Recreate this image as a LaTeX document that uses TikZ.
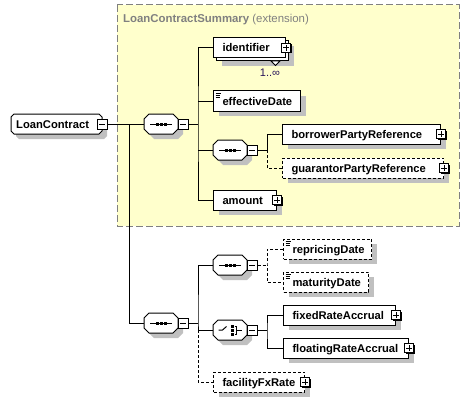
\documentclass[tikz,border=0pt]{standalone}
\usepackage{fontspec}
\setmainfont{Liberation Sans}
\usetikzlibrary{shadows,calc}
\definecolor{ybg}{RGB}{255,255,204}
\definecolor{ybord}{RGB}{128,128,128}
\definecolor{shd}{RGB}{192,192,192}
\definecolor{lbl}{RGB}{128,128,128}
\definecolor{occ}{RGB}{40,20,90}
\tikzset{
  conn/.style={line width=1pt, draw=black},
  optional/.style={dash pattern=on 3pt off 2pt},
  withshadow/.style={drop shadow={shadow xshift=5pt, shadow yshift=-5pt, fill=shd, opacity=1}},
  elembox/.style={draw=black, line width=1pt, fill=white, minimum height=20pt, inner xsep=9pt, inner ysep=0pt, text height=8pt, text depth=0pt, anchor=west, align=left, font=\fontsize{11.2}{13}\selectfont\bfseries},
  smallbox/.style={draw=black, line width=1pt, fill=white, inner sep=0pt, drop shadow={shadow xshift=1pt, shadow yshift=-1pt, fill=black, opacity=1}},
  plusbox/.style={smallbox, minimum size=9pt, path picture={\draw[line width=1pt] ([xshift=-3pt]path picture bounding box.center) -- ([xshift=3pt]path picture bounding box.center); \draw[line width=1pt] ([yshift=-3pt]path picture bounding box.center) -- ([yshift=3pt]path picture bounding box.center);}},
  minusbox/.style={smallbox, minimum size=10pt, path picture={\draw[line width=1pt] ([xshift=-3pt]path picture bounding box.center) -- ([xshift=3pt]path picture bounding box.center);}},
  iconline/.style={line width=0.7pt, draw=black},
}
\newcommand\elem[6][withshadow]{%
  \pgfmathsetmacro\mw{#4-#3}%
  \pgfmathsetmacro\tw{#4-#3-18}%
  \node[elembox, #1, minimum width=\mw pt, text width=\tw pt] (#2) at (#3,#5) {\mbox{#6}};%
}
\newcommand\octpath[4]{(#1+5,#3) -- (#2-5,#3) -- (#2,#3+5) -- (#2,#4-5) -- (#2-5,#4) -- (#1+5,#4) -- (#1,#4-5) -- (#1,#3+5) -- cycle}
\newcommand\compo[3]{%
  \pgfmathsetmacro\xa{#2}\pgfmathsetmacro\xb{#2+34}\pgfmathsetmacro\ya{#3-10}\pgfmathsetmacro\yb{#3+10}%
  \fill[shd, shift={(5,5)}] \octpath{\xa}{\xb}{\ya}{\yb};
  \draw[line width=1pt, fill=white] \octpath{\xa}{\xb}{\ya}{\yb};
  \node[inner sep=0pt, minimum width=34pt, minimum height=20pt] (#1) at (\xa+17,#3) {};
  \node[minusbox] (#1m) at (\xb+5,#3) {};
}
\newcommand\seqicon[1]{%
  \draw[line width=1pt] ($(#1.center)+(-11,0)$) -- ($(#1.center)+(11,0)$);
  \fill ($(#1.center)+(-5.5,-1.5)$) rectangle +(3,3);
  \fill ($(#1.center)+(-1.5,-1.5)$) rectangle +(3,3);
  \fill ($(#1.center)+(2.5,-1.5)$) rectangle +(3,3);
}
\newcommand\choiceicon[1]{%
  \draw[line width=1pt] ($(#1.center)+(-11.5,0)$) -- ($(#1.center)+(-7.5,0)$) -- ($(#1.center)+(-3.5,-3.5)$);
  \fill ($(#1.center)+(0.5,-5.5)$) rectangle +(3,3);
  \fill ($(#1.center)+(0.5,-1.5)$) rectangle +(3,3);
  \fill ($(#1.center)+(0.5,2.5)$) rectangle +(3,3);
  \draw[line width=1pt] ($(#1.center)+(4.5,-4)$) -- ($(#1.center)+(6.5,-4)$) -- ($(#1.center)+(6.5,4)$) -- ($(#1.center)+(4.5,4)$);
  \draw[line width=1pt] ($(#1.center)+(6.5,0)$) -- ($(#1.center)+(11.5,0)$);
}
\newcommand\simpleicon[1]{%
  \draw[iconline] ($(#1.north west)+(2.5,2.5)$) -- +(5.5,0);
  \draw[iconline] ($(#1.north west)+(2.5,4.5)$) -- +(4.5,0);
  \draw[iconline] ($(#1.north west)+(2.5,6.5)$) -- +(4.5,0);
}
\begin{document}
\begin{tikzpicture}[x=1pt, y=-1pt]
\useasboundingbox (0,0) rectangle (470,401);
% extension area
\draw[ybord, fill=ybg, line width=1pt, dash pattern=on 7pt off 3pt] (117,5) rectangle (459,226);
\node[anchor=base west, inner sep=0pt, text=lbl, font=\fontsize{11.4}{13}\selectfont] (extlabel) at (123,23) {\textbf{LoanContractSummary} (extension)};
% root
\def\lcpath{(14,114) -- (99,114) -- (102,117) -- (102,131) -- (99,134) -- (14,134) -- (11,131) -- (11,117) -- cycle}
\fill[shd, shift={(5,5)}] \lcpath;
\draw[line width=1pt, fill=white] \lcpath;
\node[anchor=west, inner sep=0pt, text height=8pt, text depth=0pt, font=\fontsize{11.2}{13}\selectfont\bfseries] (lc) at (16,124) {LoanContract};
\node[minusbox] (lcm) at (102,124) {};
% compositors
\compo{c1}{144}{124}\seqicon{c1}
\compo{c2}{213}{150}\seqicon{c2}
\compo{c3}{144}{323}\seqicon{c3}
\compo{c4}{213}{265}\seqicon{c4}
\compo{ch}{213}{330}\choiceicon{ch}
% elements
\node[elembox, withshadow, minimum width=72pt] (identifierback) at (216,51) {};
\draw[line width=0.8pt, fill=white] (271,61) -- (280,61) -- (275.5,65.5) -- cycle;
\elem[]{identifier}{213}{285}{48}{identifier}
\node[plusbox] (identifierp) at (identifier.east) {};
\node[anchor=base, inner sep=0pt, text=occ, font=\fontsize{11}{12}\selectfont] (idocc) at (270,76.5) {1..∞};
\elem{effectiveDate}{213}{300}{101}{effectiveDate}
\simpleicon{effectiveDate}
\elem{borrower}{282}{440}{134}{borrowerPartyReference}
\node[plusbox] (borrowerp) at (borrower.east) {};
\elem[withshadow, optional]{guarantor}{282}{443}{168}{guarantorPartyReference}
\node[plusbox] (guarantorp) at (guarantor.east) {};
\elem{amount}{213}{276}{200}{amount}
\node[plusbox] (amountp) at (amount.east) {};
\elem[withshadow, optional]{repricing}{283}{371}{249}{repricingDate}
\simpleicon{repricing}
\elem[withshadow, optional]{maturity}{283}{368}{282}{maturityDate}
\simpleicon{maturity}
\elem{fixed}{283}{395}{315}{fixedRateAccrual}
\node[plusbox] (fixedp) at (fixed.east) {};
\elem{floating}{283}{408}{348}{floatingRateAccrual}
\node[plusbox] (floatingp) at (floating.east) {};
\elem[withshadow, optional]{fx}{213}{304}{382}{facilityFxRate}
\node[plusbox] (fxp) at (fx.east) {};
% connectors
\coordinate (j1) at (129,124);
\coordinate (j2) at (198,124);
\coordinate (j3) at (267,150);
\coordinate (j4) at (198,323);
\coordinate (j5) at (267,265);
\coordinate (j6) at (267,330);
\draw[conn] (lcm.east) -- (c1.west);
\draw[conn] (j1) |- (c3.west);
\draw[conn] (c1m.east) -- (j2);
\draw[conn] (identifier.west) -| (j2) |- (amount.west);
\draw[conn] (effectiveDate.west) -- (effectiveDate.west -| j2);
\draw[conn] (c2.west) -- (c2.west -| j2);
\draw[conn] (c2m.east) -- (j3);
\draw[conn] (j3) |- (borrower.west);
\draw[conn, optional] (j3) |- (guarantor.west);
\draw[conn] (c3m.east) -- (j4);
\draw[conn] (c4.west) -| (j4) |- (ch.west);
\draw[conn, optional] (ch.west -| j4) |- (fx.west);
\draw[conn, optional] (c4m.east) -- (j5);
\draw[conn, optional] (repricing.west) -| (j5) |- (maturity.west);
\draw[conn] (chm.east) -- (j6);
\draw[conn] (fixed.west) -| (j6) |- (floating.west);
\end{tikzpicture}
\end{document}
